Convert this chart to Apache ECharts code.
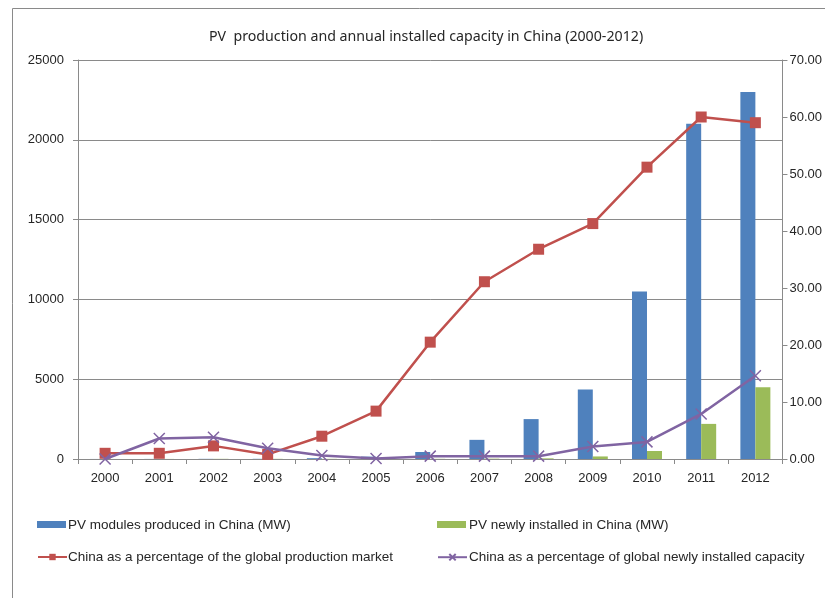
<!DOCTYPE html>
<html><head><meta charset="utf-8">
<script src="https://cdn.jsdelivr.net/npm/echarts@6/dist/echarts.min.js"></script>
<style>html,body{margin:0;padding:0;background:#fff}#c{width:825px;height:598px}</style>
</head><body><div id="c"></div>
<script>
var years = ['2000','2001','2002','2003','2004','2005','2006','2007','2008','2009','2010','2011','2012'];
var modulesProduced = [3, 5, 10, 12, 50, 150, 440, 1200, 2500, 4350, 10500, 21000, 23000];
var newlyInstalled = [3, 5, 10, 10, 10, 5, 10, 20, 40, 160, 500, 2200, 4500];
var pctProduction = [1.0, 1.0, 2.3, 0.8, 4.0, 8.4, 20.5, 31.1, 36.8, 41.3, 51.2, 60.0, 59.0];
var pctInstalled = [0.0, 3.6, 3.8, 1.9, 0.6, 0.1, 0.5, 0.5, 0.5, 2.2, 3.0, 7.9, 14.6];
var seriesNames = [
  'PV modules produced in China (MW)',
  'PV newly installed in China (MW)',
  'China as a percentage of the global production market',
  'China as a percentage of global newly installed capacity'
];
var leftTicks = [0, 25000, 5000];
var rightTicks = [0, 70, 10];

var txt = '#262626';
var axisFont = {fontFamily: 'Liberation Sans', fontSize: 13, color: txt};
var chart = echarts.init(document.getElementById('c'));
var xPath = 'path://M0,0L10,10M10,0L0,10';

var legendPos = [[37, 521, 7, 68, 525.5, 'rect'], [437, 521, 7, 469, 525.5, 'rect'],
                 [37, 553, 8, 68, 557, null], [437, 553, 8, 469, 557, null]];
var legends = seriesNames.map(function (n, i) {
  var l = {data: [n], left: legendPos[i][0], top: legendPos[i][1], padding: 0,
    itemWidth: 29, itemHeight: legendPos[i][2], formatter: function () { return ''; }};
  if (legendPos[i][5]) l.icon = legendPos[i][5];
  return l;
});
var legendTexts = seriesNames.map(function (n, i) {
  return {type: 'text', x: legendPos[i][3], y: legendPos[i][4], silent: true,
    style: {text: n, fontFamily: 'Liberation Sans', fontSize: 13.5, fill: txt, textVerticalAlign: 'middle'}};
});

chart.setOption({
  animation: false,
  title: {
    text: 'PV  production and annual installed capacity in China (2000-2012)',
    left: 204, top: 25,
    textStyle: {fontFamily: 'Noto Sans', fontSize: 14.2, fontWeight: 'normal', color: txt}
  },
  graphic: [{type: 'rect', shape: {x: 12.5, y: 8.5, width: 900, height: 700},
    style: {fill: 'none', stroke: '#8a8a8a', lineWidth: 1}, silent: true}].concat(legendTexts),
  grid: {left: 78, right: 42, top: 60, bottom: 139},
  legend: legends,
  xAxis: {
    type: 'category', data: years, boundaryGap: true,
    axisLine: {lineStyle: {color: '#8a8a8a'}},
    axisTick: {show: true, length: 5, lineStyle: {color: '#8a8a8a'}},
    axisLabel: Object.assign({margin: 13}, axisFont)
  },
  yAxis: [{
    type: 'value', min: leftTicks[0], max: leftTicks[1], interval: leftTicks[2],
    axisLine: {show: true, lineStyle: {color: '#8a8a8a'}},
    axisTick: {show: true, length: 5, lineStyle: {color: '#8a8a8a'}},
    splitLine: {lineStyle: {color: '#8a8a8a'}},
    axisLabel: Object.assign({margin: 14, formatter: function (v) { return String(v); }}, axisFont)
  }, {
    type: 'value', min: rightTicks[0], max: rightTicks[1], interval: rightTicks[2],
    axisLine: {show: true, lineStyle: {color: '#8a8a8a'}},
    axisTick: {show: true, length: 5, lineStyle: {color: '#8a8a8a'}},
    splitLine: {show: false},
    axisLabel: Object.assign({margin: 7, formatter: function (v) { return v.toFixed(2); }}, axisFont)
  }],
  series: [{
    name: seriesNames[0], type: 'bar', data: modulesProduced,
    barWidth: 15, barGap: '0%', itemStyle: {color: '#4f81bd'}
  }, {
    name: seriesNames[1], type: 'bar', data: newlyInstalled,
    barWidth: 15, barGap: '0%', itemStyle: {color: '#9bbb59'}
  }, {
    name: seriesNames[2], type: 'line', yAxisIndex: 1,
    data: pctProduction, symbol: 'rect', symbolSize: 11, z: 5,
    lineStyle: {color: '#c0504d', width: 2.5}, itemStyle: {color: '#c0504d'}
  }, {
    name: seriesNames[3], type: 'line', yAxisIndex: 1,
    data: pctInstalled, symbol: xPath, symbolSize: 11, z: 6,
    lineStyle: {color: '#8064a2', width: 2.5},
    itemStyle: {color: 'rgba(0,0,0,0)', borderColor: '#8064a2', borderWidth: 1.5}
  }]
});
</script></body></html>
